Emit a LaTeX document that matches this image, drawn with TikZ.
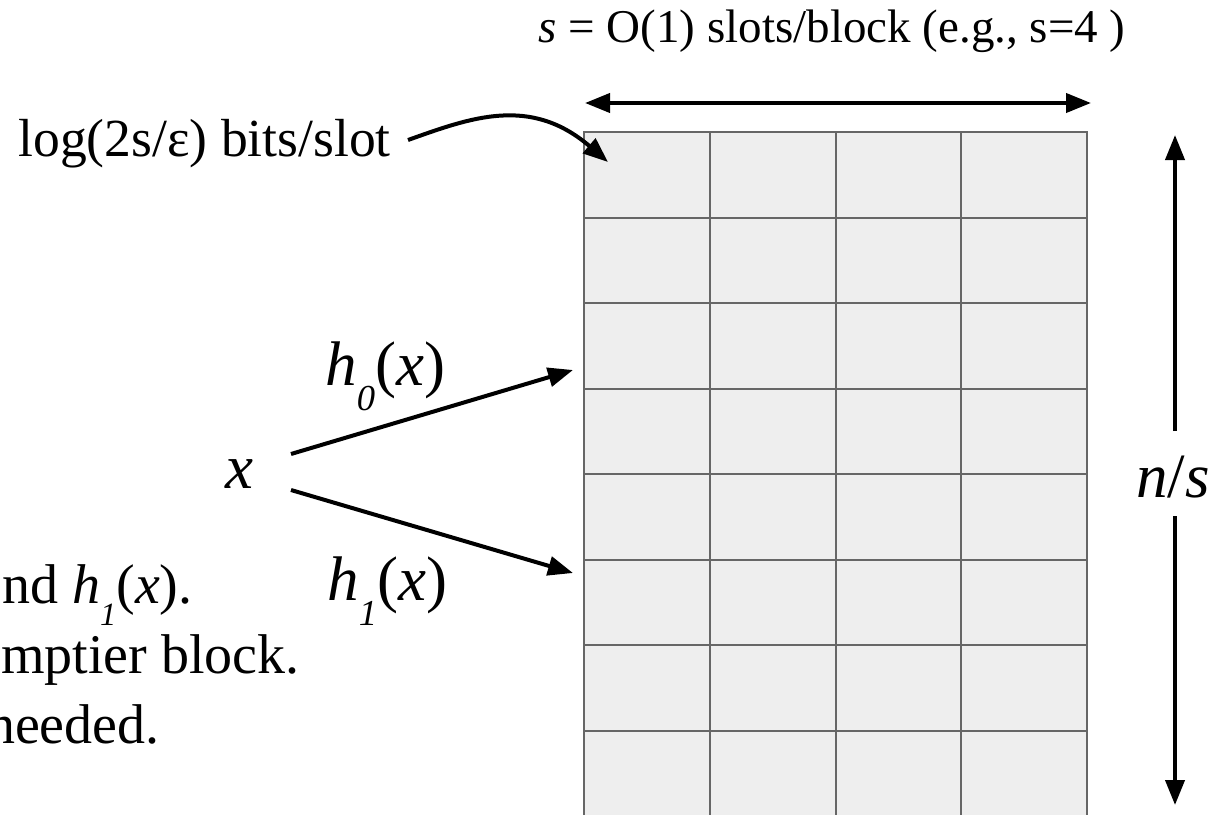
\documentclass[tikz,border=0pt]{standalone}
\usepackage{fontspec}
\usepackage{graphicx}
\setmainfont{Liberation Serif}
\usetikzlibrary{arrows.meta}
\definecolor{cellfill}{HTML}{EEEEEE}
\definecolor{cellline}{HTML}{666666}
\newcommand{\lowsub}[1]{\raisebox{-0.4em}{\scalebox{0.58}{\textit{#1}}}}
\newcommand{\fs}[1]{\fontsize{#1}{1.2\dimexpr#1\relax}\selectfont}
\begin{document}
\begin{tikzpicture}[x=0.5pt,y=-0.5pt,
  cell/.style={draw=cellline, fill=cellfill, line width=1pt, inner sep=0pt,
    minimum width=62.875pt, minimum height=42.75pt},
  arr/.style={line width=2pt, -{Triangle[length=12.5pt,width=9.5pt]}},
  darr/.style={line width=2pt, {Triangle[length=12.5pt,width=9.5pt]}-{Triangle[length=12.5pt,width=9.5pt]}},
  lab/.style={inner sep=0pt, font=\fs{31.5pt}},
  txt/.style={inner sep=0pt, font=\fs{28pt}}]
\useasboundingbox (0,0) rectangle (1224,814);
\clip (0,0) rectangle (1224,814);
% grid
\foreach \i in {0,...,3}{
  \foreach \j in {0,...,8}{
    \node[cell] (c-\i-\j) at ({584+125.75*(\i+0.5)},{132+85.5*(\j+0.5)}) {};
  }
}
% top label and arrow
\node[inner sep=0pt, anchor=base, font=\fs{23.5pt}] (slab) at (832,42) {\textit{s} = O(1) slots/block (e.g., s=4 )};
\coordinate (tl) at (585,103);
\coordinate (tr) at (1091,103);
\draw[darr] (tl) -- (tr);
% bits per slot label
\node[inner sep=0pt, anchor=base west, font=\fs{26.8pt}] (loglab) at (18,156) {log(2s/ε) bits/slot};
\coordinate (logs) at (408,140);
\coordinate (loge) at (608,162);
\draw[arr] (logs) .. controls (470,118) and (530,95) .. (loge);
% x and hashes
\node[lab, anchor=base] (x) at (239,488) {\textit{x}};
\node[lab, anchor=base west] (h0) at (325,385) {\textit{h}\lowsub{0}(\textit{x})};
\node[lab, anchor=base west] (h1) at (327,600) {\textit{h}\lowsub{1}(\textit{x})};
\coordinate (h0s) at (291,454);
\coordinate (h0e) at (573,370);
\coordinate (h1s) at (291,490);
\coordinate (h1e) at (573,573);
\draw[arr] (h0s) -- (h0e);
\draw[arr] (h1s) -- (h1e);
% n/s
\node[lab, anchor=base] (ns) at (1173,497) {\textit{n}/\textit{s}};
\coordinate (vt) at (1175,135);
\coordinate (vtu) at (1175,431);
\coordinate (vb) at (1175,805);
\coordinate (vbd) at (1175,516);
\draw[arr] (vtu) -- (vt);
\draw[arr] (vbd) -- (vb);
% cut-off text on the left
\node[txt, anchor=base east] (t1) at (193,603) {nd \textit{h}\lowsub{1}(\textit{x}).};
\node[txt, anchor=base east] (t2) at (300,673) {mptier block.};
\node[txt, anchor=base east] (t3) at (160,743) {needed.};
\end{tikzpicture}
\end{document}
